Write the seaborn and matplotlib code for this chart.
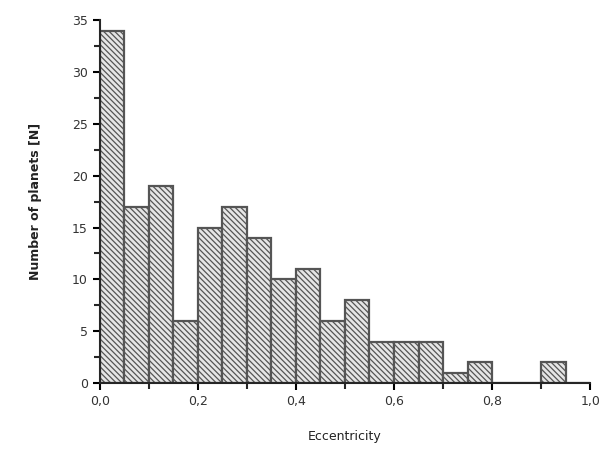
import numpy as np
import pandas as pd
import matplotlib
matplotlib.use('Agg')
import matplotlib.pyplot as plt
import seaborn as sns

# Histogram of planet eccentricities, bin width 0.05
bin_edges = [0.00, 0.05, 0.10, 0.15, 0.20, 0.25, 0.30, 0.35, 0.40, 0.45, 0.50,
             0.55, 0.60, 0.65, 0.70, 0.75, 0.80, 0.85, 0.90, 0.95, 1.00]
counts = [34, 17, 19, 6, 15, 17, 14, 10, 11, 6, 8, 4, 4, 4, 1, 2, 0, 0, 2, 0]
x_ticks = [0.0, 0.2, 0.4, 0.6, 0.8, 1.0]
x_ticklabels = ['0,0', '0,2', '0,4', '0,6', '0,8', '1,0']
y_ticks = [0, 5, 10, 15, 20, 25, 30, 35]

centers = [(a + b) / 2 for a, b in zip(bin_edges[:-1], bin_edges[1:])]
df = pd.DataFrame({'ecc': centers, 'n': counts})

sns.set_style('ticks')
plt.rcParams['font.family'] = ['DejaVu Sans']
plt.rcParams['hatch.color'] = '#555555'
plt.rcParams['hatch.linewidth'] = 0.9

fig = plt.figure(figsize=(6.01, 4.49), dpi=100)
ax = fig.add_axes([0.166, 0.147, 0.816, 0.808])

sns.histplot(data=df, x='ecc', weights='n', bins=bin_edges, ax=ax,
             color='white', edgecolor='#555555', linewidth=1.6, alpha=1)
for p in ax.patches:
    p.set_hatch('\\\\\\\\\\\\')
    p.set_facecolor('#e6e6e6')

ax.set_xlim(0, 1.0)
ax.set_ylim(0, 35)
ax.set_xticks(x_ticks)
ax.set_xticklabels(x_ticklabels)
ax.set_xticks([0.1, 0.3, 0.5, 0.7, 0.9], minor=True)
ax.set_yticks(y_ticks)
ax.set_yticks(np.arange(2.5, 35, 5), minor=True)
ax.tick_params(which='major', length=5, width=1.5, labelsize=9, colors='black')
ax.tick_params(which='minor', length=4, width=1.5)
for lab in ax.get_xticklabels() + ax.get_yticklabels():
    lab.set_color('#333333')

ax.set_xlabel('Eccentricity', fontsize=9, labelpad=16, color='#222222')
ax.set_ylabel('Number of planets [N]', fontsize=9, labelpad=22, color='#222222',
              fontweight='bold')
sns.despine(ax=ax)
for s in ['left', 'bottom']:
    ax.spines[s].set_linewidth(1.5)

fig.savefig('out.png', dpi=100)
